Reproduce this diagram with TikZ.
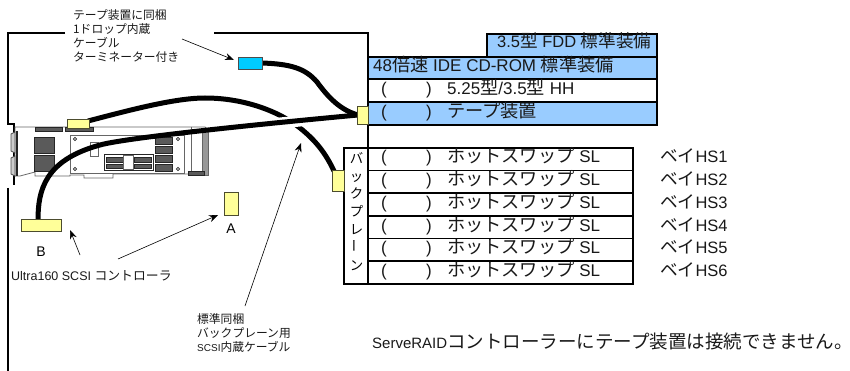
\documentclass[tikz,border=0pt]{standalone}
\usepackage{fontspec}
\usepackage{xcolor}
\setmainfont{Liberation Sans}
\newfontfamily\jpfont[Scale=1.07]{Noto Sans CJK JP}
\newcommand{\jp}[1]{{\jpfont #1}}
\usetikzlibrary{positioning,calc,arrows.meta}
\definecolor{baycolor}{HTML}{99CCFF}
\definecolor{plugcolor}{HTML}{FFFF99}
\definecolor{termcolor}{HTML}{00CCFF}
\definecolor{chipcolor}{HTML}{5A5A5A}
\tikzset{
    baybox/.style={draw=black, line width=1.5pt},
    baytext/.style={anchor=base west, inner sep=0pt, font=\fontsize{17}{18}\selectfont, text=black!90},
    smalltext/.style={anchor=north west, inner sep=0pt, align=left, text=black!90},
    plug/.style={draw=black!70!plugcolor, fill=plugcolor, line width=0.8pt, inner sep=0pt},
    cable/.style={line width=5pt, black},
    halo/.style={line width=11pt, white},
    callout/.style={-{Stealth[length=9pt,width=7pt]}, line width=0.6pt},
    chip/.style={fill=chipcolor, draw=black!85, line width=0.9pt},
    cardline/.style={draw=black!60, line width=0.8pt},
    frameline/.style={line width=1.5pt}
}
\begin{document}
\begin{tikzpicture}[x=1pt,y=-1pt]
    \useasboundingbox (0,0) rectangle (850,371);
    % frame
    \coordinate (frameA) at (65,33);
    \coordinate (frameB) at (214,33);
    \draw[frameline] (frameA) -- (8,33) -- (8,124) -- (14,124) -- (14,185);
    \draw[frameline] (8,188) -- (8,371);
    % bays
    \draw[baybox, fill=baycolor] (487,34) rectangle (657,57);
    \draw[baybox, fill=baycolor] (368,57) rectangle (657,79);
    \draw[baybox, fill=white] (368,79) rectangle (657,102);
    \draw[baybox, fill=baycolor] (368,102) rectangle (657,125);
    \draw[frameline] (frameB) -- (368,33) -- (368,148);
    \node[baytext, font=\fontsize{16.5}{18}\selectfont] (fdd) at (497,48) {3.5\jp{型} FDD \jp{標準装備}};
    \node[baytext] (cdrom) at (373,72) {48\jp{倍速} IDE CD-ROM \jp{標準装備}};
    \node[baytext] (hh) at (447,95) {5.25\jp{型}/3.5\jp{型} HH};
    \node[baytext] (tape) at (447,118) {\jp{テープ装置}};
    \foreach \i/\y in {a/95,b/118} {
        \node[baytext] (open\i) at (381,\y) {(};
        \node[baytext] (close\i) at (426,\y) {)};
    }
    % hot swap rows
    \draw[baybox] (344,148) rectangle (633,284);
    \draw[baybox] (368,148) -- (368,284);
    \foreach \n in {1,...,6} {
        \pgfmathsetmacro{\rowy}{163+22.7*(\n-1)}
        \pgfmathsetmacro{\liney}{147.7+22.7*\n}
        \ifnum\n<6 \draw[baybox] (368,\liney) -- (633,\liney); \fi
        \node[baytext] (rowopen\n) at (381,\rowy) {(};
        \node[baytext] (rowclose\n) at (426,\rowy) {)};
        \node[baytext] (row\n) at (447,\rowy) {\jp{ホットスワップ} SL};
        \node[baytext, font=\fontsize{16.5}{18}\selectfont] (bay\n) at (660,\rowy) {{\jpfont ベイ}HS\n};
    }
    \node[anchor=north, inner sep=0pt, align=center, font=\fontsize{12.5}{17.9}\selectfont\jpfont] (backplane) at (356.5,152)
        {バ\\ッ\\ク\\プ\\レ\\\rotatebox{90}{ー}\\ン};
    % card
    \draw[cardline, fill=white] (15,127) -- (205,127) -- (208,130) -- (208,174) -- (113,174) -- (113,178)
        -- (84,178) -- (84,175) -- (70,175) -- (70,176) -- (35,176) -- (35,172) -- (20,176) -- (15,176) -- cycle;
    \draw[black!60, fill=black!40, line width=0.8pt] (202,129) rectangle (208,175);
    \draw[cardline] (191,127) -- (191,173);
    \draw[cardline, fill=white] (70,135) rectangle (184,173);
    \draw[chip] (34,137) rectangle (54,153);
    \draw[chip] (34,155) rectangle (54,171);
    \draw[chip] (35,127) rectangle (62,131);
    \draw[chip] (65,127) rectangle (93,131);
    \foreach \y in {137,146,155,164}
        \draw[chip] (155,\y) rectangle (172,\y+7);
    \draw[cardline] (90,142) rectangle (98,156);
    \draw[black!85, line width=0.8pt] (104,154) rectangle (153,170);
    \draw[chip] (106,157) rectangle (123,162);
    \draw[chip] (106,164) rectangle (123,168);
    \draw[chip] (134,157) rectangle (151,162);
    \draw[chip] (134,164) rectangle (151,168);
    \draw[cardline, fill=white] (123,155) rectangle (133,169);
    \foreach \x/\y in {75/139,178/139,75/169,178/169}
        \draw[black!85, line width=0.8pt] (\x,\y) circle (1.6);
    \draw[black!70, fill=black!20, line width=0.8pt] (11,134) -- (15,132) -- (15,153) -- (11,151) -- cycle;
    \draw[black!70, fill=black!20, line width=0.8pt] (11,158) -- (15,156) -- (15,176) -- (11,174) -- cycle;
    \draw[black!85, line width=1.2pt] (17,131) -- (17,176);
    \draw[chip] (188,171) rectangle (204,175);
    % cables
    \coordinate (termend) at (262,63);
    \coordinate (tapeend) at (358,115);
    \coordinate (backend) at (334,171);
    \coordinate (cardend) at (88,121);
    \coordinate (bend) at (38,220);
    \draw[cable] (cardend) .. controls (130,110) and (175,98) .. (205,98)
        .. controls (245,98) and (280,112) .. (300,128) .. controls (315,140) and (325,152) .. (backend);
    \draw[cable] (termend) .. controls (290,64) and (305,68) .. (317,82)
        .. controls (328,97) and (340,110) .. (tapeend);
    \draw[halo] (260,125) -- (320,119);
    \draw[cable] (bend) .. controls (38,190) and (45,160) .. (100,145)
        .. controls (125,138) and (250,125) .. (tapeend);
    % connectors
    \node[plug, minimum width=24pt, minimum height=12pt, fill=termcolor, draw=black!70] (terminator) at (250,63) {};
    \node[plug, minimum width=11pt, minimum height=18pt] (tapeplug) at (362.5,115) {};
    \node[plug, minimum width=12pt, minimum height=21pt] (backplug) at (338,181) {};
    \node[plug, minimum width=22pt, minimum height=9pt] (cardplug) at (78,123.5) {};
    \node[plug, minimum width=40pt, minimum height=12pt] (plugB) at (41,225.5) {};
    \node[plug, minimum width=14pt, minimum height=23pt] (plugA) at (231,204) {};
    % labels
    \node[smalltext, font=\fontsize{11}{14}\selectfont\jpfont] (tapelabel) at (73,9)
        {テープ装置に同梱\\1ドロップ内蔵\\ケーブル\\ターミネーター付き};
    \node[anchor=base west, inner sep=0pt, text=black!90, font=\fontsize{12.5}{16}\selectfont] (ctrllabel) at (11,280) {Ultra160 SCSI {\fontsize{12}{14}\selectfont\jpfont コントローラ}};
    \node[smalltext, font=\fontsize{11}{14.3}\selectfont\jpfont] (cablelabel) at (197,313)
        {標準同梱\\バックプレーン用\\{\rmfamily\fontsize{10}{14.3}\selectfont SCSI}内蔵ケーブル};
    \node[anchor=base west, inner sep=0pt, text=black!90, font=\fontsize{15}{17}\selectfont] (notelabel) at (372,348) {ServeRAID{\fontsize{17.3}{17}\selectfont\jpfont コントローラーにテープ装置は接続できません。}};
    \node[below=8pt of plugA, inner sep=0pt, font=\fontsize{14}{16}\selectfont] (labelA) {A};
    \node[below=15pt of plugB, inner sep=0pt, font=\fontsize{14}{16}\selectfont] (labelB) {B};
    % callouts
    \coordinate (tapefrom) at (182,39);
    \coordinate (tapeto) at (234,60);
    \coordinate (ctrlB) at (80,255);
    \coordinate (ctrlA) at (118,259);
    \coordinate (cablefrom) at (245,306);
    \coordinate (cableto) at (301,143);
    \coordinate (plugBto) at (70,230);
    \coordinate (plugAto) at (218,215);
    \draw[callout] (tapefrom) -- (tapeto);
    \draw[callout] (ctrlB) -- (plugBto);
    \draw[callout] (ctrlA) -- (plugAto);
    \draw[callout] (cablefrom) -- (cableto);
\end{tikzpicture}
\end{document}
